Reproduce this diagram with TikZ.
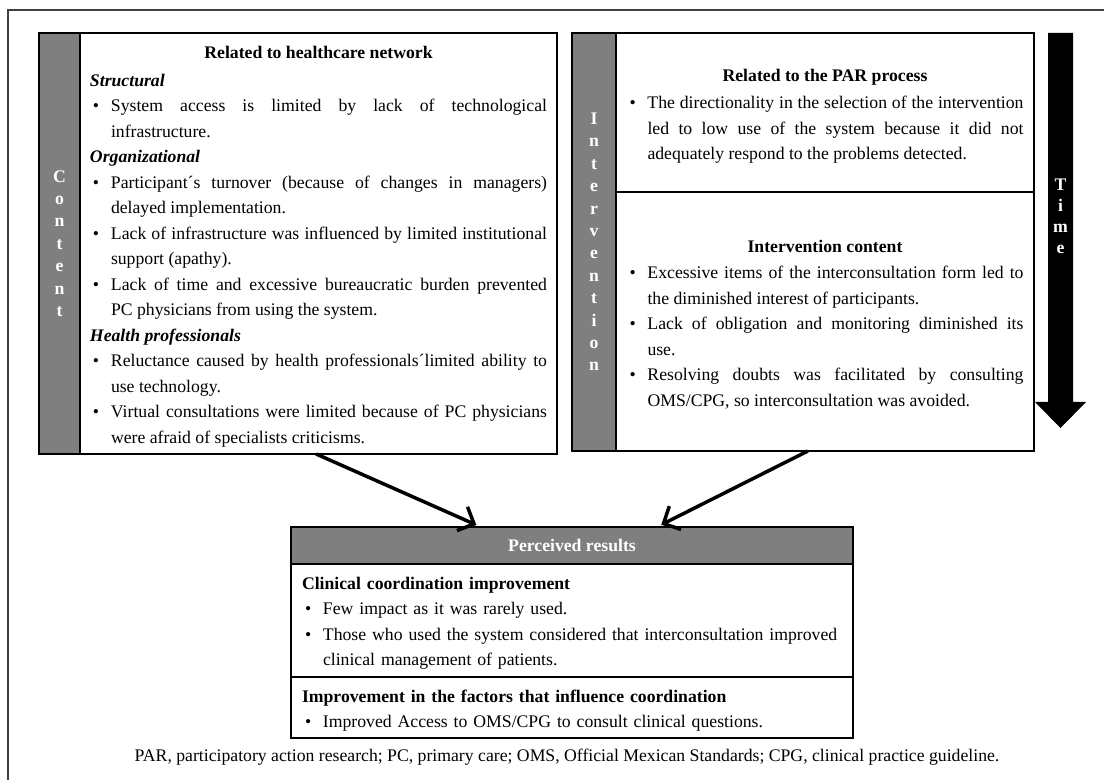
\documentclass[tikz,border=0pt]{standalone}
\usepackage{fontspec}
\setmainfont{Liberation Serif}
\usepackage{xcolor}
\usetikzlibrary{positioning,calc,arrows.meta}

\definecolor{bargray}{RGB}{127,127,127}
\newcommand{\bul}[1]{\par\hangindent=10.5pt\hangafter=1\noindent\hbox to 10.5pt{\hskip 1.5pt\textbullet\hfil}#1}
\newcommand{\subhead}[1]{\par\noindent\textbf{\textit{#1}}}

\begin{document}
\begin{tikzpicture}[x=0.5pt,y=-0.5pt,>={Straight Barb[length=6.5pt,width=13pt]},
    bar node/.style={rectangle,draw=black,fill=bargray,line width=1pt,inner sep=0pt,outer sep=0pt,text=white,font=\fontsize{8.85}{11.2}\selectfont\bfseries,align=center},
    box node/.style={rectangle,draw=black,line width=1pt,inner sep=0pt,outer sep=0pt},
    text node/.style={inner sep=0pt,outer sep=0pt,yshift=-1.5pt,font=\fontsize{8.85}{12.75}\selectfont}]

            \useasboundingbox (0,0) rectangle (1104,780);
            \draw[line width=0.75pt, black!75] (8,780) -- (8,10) -- (1104,10);

            \node[bar node, anchor=north west, minimum width=20.5pt, minimum height=210.5pt] (1) at (39,33) {C\\o\\n\\t\\e\\n\\t};
            \node[box node, right=0pt of 1, minimum width=238.5pt, minimum height=210.5pt] (2) {};
            \node[text node, text width=228.5pt, align=justify] (3) at (2.center) {
                \centerline{\textbf{Related to healthcare network}}\par\vspace{1.25pt}
                \subhead{Structural}
                \bul{System access is limited by lack of technological\linebreak infrastructure.}
                \subhead{Organizational}
                \bul{Participant´s turnover (because of changes in managers)\linebreak delayed implementation.}
                \bul{Lack of infrastructure was influenced by limited institutional\linebreak support (apathy).}
                \bul{Lack of time and excessive bureaucratic burden prevented\linebreak PC physicians from using the system.}
                \subhead{Health professionals}
                \bul{Reluctance caused by health professionals´limited ability to\linebreak use technology.}
                \bul{Virtual consultations were limited because of PC physicians\linebreak were afraid of specialists criticisms.}\par};

            \node[bar node, anchor=north west, minimum width=22pt, minimum height=209pt] (4) at (572,33) {I\\n\\t\\e\\r\\v\\e\\n\\t\\i\\o\\n};
            \node[box node, anchor=north west, minimum width=209pt, minimum height=79.5pt] (5) at (4.north east) {};
            \node[box node, below=0pt of 5, minimum width=209pt, minimum height=129.5pt] (6) {};
            \node[text node, text width=198.5pt, align=justify, yshift=-0.5pt] (7) at (5.center) {
                \centerline{\textbf{Related to the PAR process}}\par\vspace{0.75pt}
                \bul{The directionality in the selection of the intervention\linebreak led to low use of the system because it did not\linebreak adequately respond to the problems detected.}\par};
            \node[text node, text width=198.5pt, align=justify] (8) at (6.center) {
                \centerline{\textbf{Intervention content}}\par\vspace{0.25pt}
                \bul{Excessive items of the interconsultation form led to\linebreak the diminished interest of participants.}
                \bul{Lack of obligation and monitoring diminished its\linebreak use.}
                \bul{Resolving doubts was facilitated by consulting\linebreak OMS/CPG, so interconsultation was avoided.}\par};

            \fill (1048,33) -- (1073,33) -- (1073,402) -- (1086,402) -- (1060.5,428) -- (1035,402) -- (1048,402) -- cycle;
            \node[text=white, font=\fontsize{8.85}{10.5}\selectfont\bfseries, align=center, inner sep=0pt] (9) at (1060.5,216) {T\\i\\m\\e};

            \node[bar node, anchor=north west, minimum width=281pt, minimum height=18.5pt] (10) at (291,527) {Perceived results};
            \node[box node, below=0pt of 10, minimum width=281pt, minimum height=56.5pt] (11) {};
            \node[box node, below=0pt of 11, minimum width=281pt, minimum height=30.5pt] (12) {};
            \node[text node, text width=270pt, align=left] (13) at (11.center) {
                \noindent\textbf{Clinical coordination improvement}
                \bul{Few impact as it was rarely used.}
                \bul{Those who used the system considered that interconsultation improved\linebreak clinical management of patients.}\par};
            \node[text node, text width=270pt, align=left] (14) at (12.center) {
                \noindent\textbf{Improvement in the factors that influence coordination}
                \bul{Improved Access to OMS/CPG to consult clinical questions.}\par};

            \node[text node] (15) at (567,754) {PAR, participatory action research; PC, primary care; OMS, Official Mexican Standards; CPG, clinical practice guideline.};

            \path[->, line width=1.75pt, shorten >=2.5pt]
                ($(2.south west)!0.495!(2.south east)$) edge ($(10.north west)!0.338!(10.north east)$)
                ($(6.south west)!0.459!(6.south east)$) edge ($(10.north west)!0.651!(10.north east)$)
                ;
        \end{tikzpicture}
\end{document}
